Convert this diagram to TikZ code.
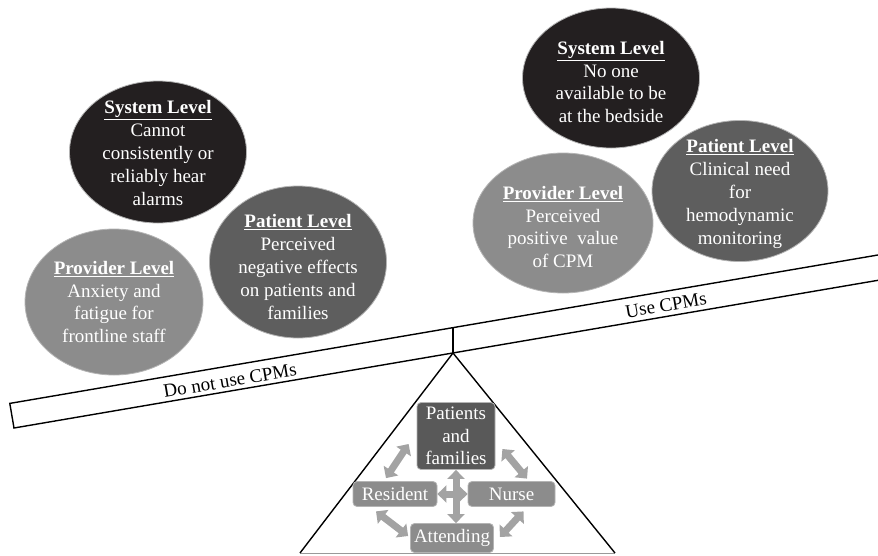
\documentclass[tikz,border=0pt]{standalone}
\usepackage{fontspec}
\setmainfont{Liberation Serif}
\usetikzlibrary{shapes.geometric,arrows.meta,calc}
\definecolor{sysc}{HTML}{231F20}
\definecolor{patc}{HTML}{5E5E5E}
\definecolor{provc}{HTML}{8C8C8C}
\definecolor{edgec}{HTML}{B4B4B4}
\definecolor{arrc}{HTML}{A3A3A3}
\definecolor{boxd}{HTML}{595959}
\begin{document}
\begin{tikzpicture}[x=1pt,y=-1pt,
  lvl/.style={ellipse, draw=edgec, line width=0.8pt, inner sep=0pt},
  txt/.style={text=white, align=center, font=\fontsize{19}{22.8}\selectfont, inner sep=0pt},
  role/.style={rounded corners=4pt, draw=edgec, line width=0.8pt, text=white,
    font=\fontsize{19}{22.5}\selectfont, align=center, inner sep=0pt},
  dbl/.style={draw=arrc, line width=7pt,
    {Triangle[width=17pt,length=9pt]}-{Triangle[width=17pt,length=9pt]}},
  beam/.style={draw=black, line width=1.4pt},
  plank/.style={font=\fontsize{19}{22}\selectfont, rotate=9.7, inner sep=0pt}]
\useasboundingbox (0,0) rectangle (878,555);
\clip (0,0) rectangle (878,555);
\fill[white] (0,0) rectangle (878,555);

% beam
\draw[beam, fill=white] (9.8,403.4) -- (14,428) -- (901.1,276.35) -- (896.9,251.75) -- cycle;
\coordinate (apex) at (453,353);
\coordinate (pin) at (453,327.6);
\coordinate (bl) at (300,553);
\coordinate (br) at (615,553);
\draw[beam] (pin) -- (apex);
\draw[black!40, line width=1pt] (bl) -- (br);
\draw[beam, line join=miter] (bl) -- (apex) -- (br);
\node[plank] (dn) at (230,380.5) {Do not use CPMs};
\node[plank] (use) at (666,305) {Use CPMs};

% left circles
\node[lvl, fill=sysc, minimum width=177, minimum height=142] (ls) at (158,152) {};
\node[txt] (lst) at (158,153) {\underline{\textbf{System Level}}\\Cannot\\consistently or\\reliably hear\\alarms};
\node[lvl, fill=patc, minimum width=177, minimum height=152] (lp) at (298,262) {};
\node[txt] (lpt) at (298,267) {\underline{\textbf{Patient Level}}\\Perceived\\negative effects\\on patients and\\families};
\node[lvl, fill=provc, minimum width=178, minimum height=146] (lv) at (114,302) {};
\node[txt] (lvt) at (114,302) {\underline{\textbf{Provider Level}}\\Anxiety and\\fatigue for\\frontline staff};

% right circles
\node[lvl, fill=sysc, minimum width=177, minimum height=140] (rs) at (611,78) {};
\node[txt] (rst) at (611,82) {\underline{\textbf{System Level}}\\No one\\available to be\\at the bedside};
\node[lvl, fill=provc, minimum width=180, minimum height=140] (rv) at (563,223) {};
\node[txt] (rvt) at (563,227) {\underline{\textbf{Provider Level}}\\Perceived\\positive\ \ value\\of CPM};
\node[lvl, fill=patc, minimum width=176, minimum height=141] (rp) at (740,191) {};
\node[txt] (rpt) at (740,194) {\underline{\textbf{Patient Level}}\\Clinical need\\for\\hemodynamic\\monitoring};

% roles
\node[role, fill=boxd, minimum width=78, minimum height=67] (pat) at (456,436) {Patients\\and\\families};
\node[role, fill=provc, minimum width=84, minimum height=25] (res) at (395,494) {Resident};
\node[role, fill=provc, minimum width=87, minimum height=25] (nur) at (511.5,494) {Nurse};
\node[role, fill=provc, minimum width=83, minimum height=29] (att) at (452,538) {Attending};

% arrows
\draw[dbl] ($(res.north)+(-9,-3)$) -- ($(pat.west)+(-8,8)$);
\draw[dbl] ($(pat.east)+(7,13)$) -- ($(nur.north)+(15.5,-2.5)$);
\draw[dbl] ($(res.south)+(-19,4.5)$) -- ($(att.west)+(-2,-2)$);
\draw[dbl] ($(att.east)+(6,-1)$) -- ($(nur.south)+(12,4.5)$);
\draw[dbl] (pat.south) -- (pat.south |- att.north);
\draw[dbl] (res.east) -- (nur.west);
\end{tikzpicture}
\end{document}
